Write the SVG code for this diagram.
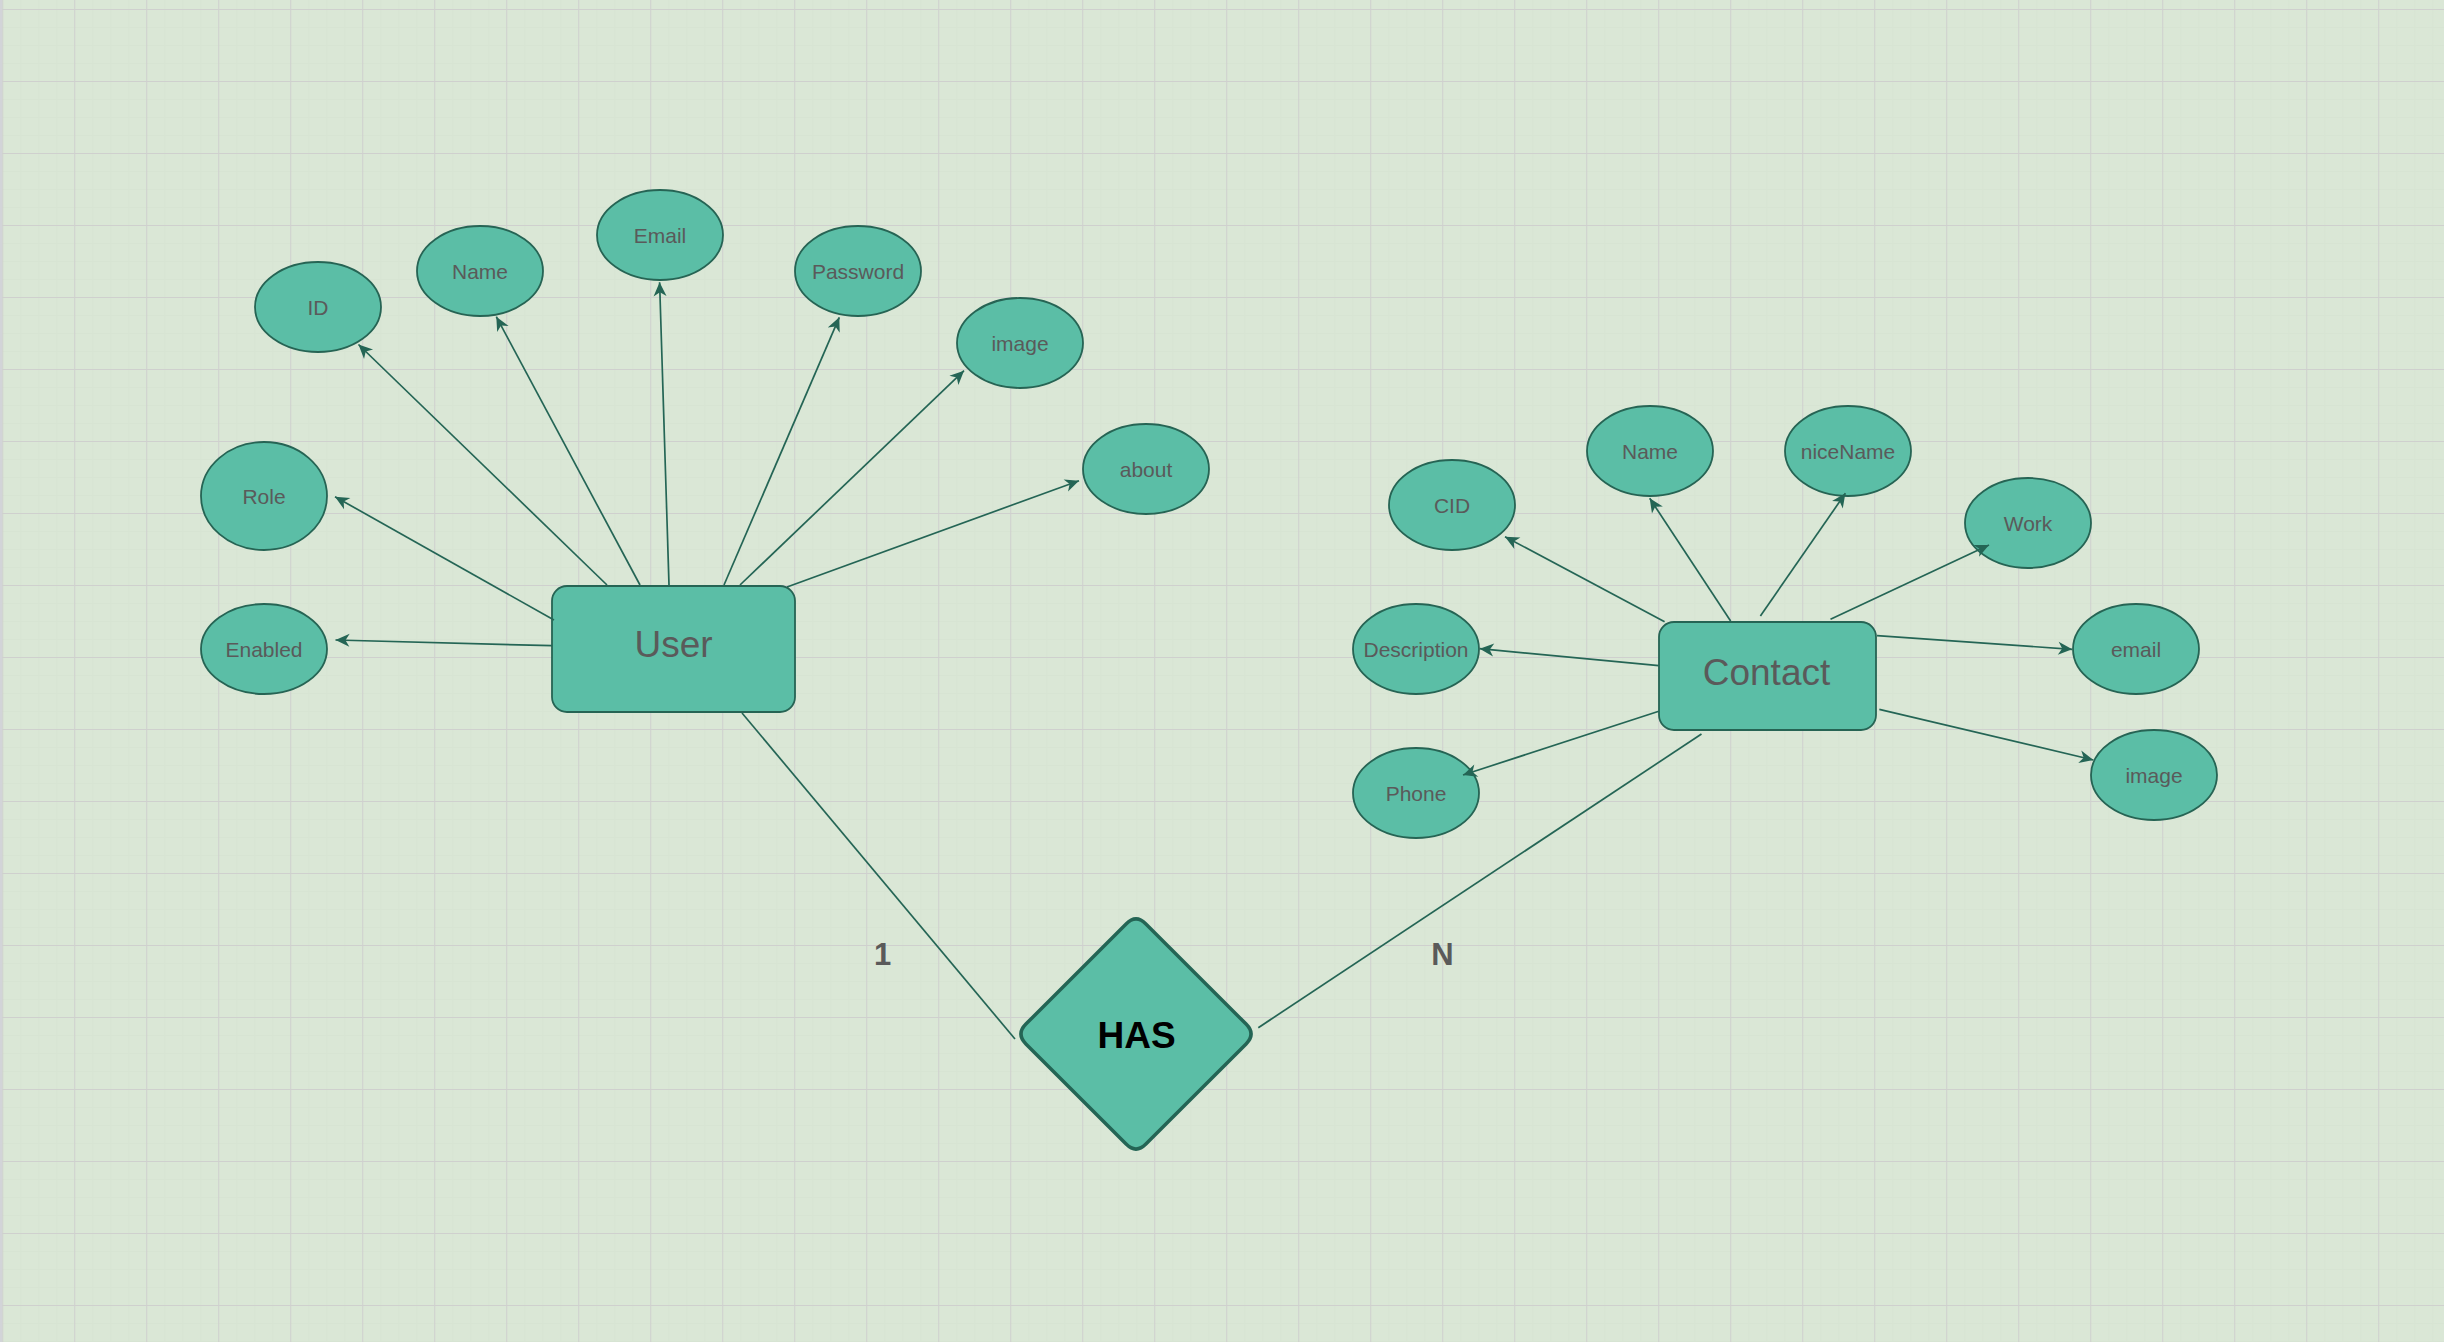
<svg xmlns="http://www.w3.org/2000/svg" width="2444" height="1342" viewBox="0 0 2444 1342">
  <defs>
    <pattern id="grid" patternUnits="userSpaceOnUse" x="2.2" y="9" width="72" height="72">
      <path d="M18.5,0 V72 M36.5,0 V72 M54.5,0 V72 M0,18.5 H72 M0,36.5 H72 M0,54.5 H72" stroke="#d7e4d3" stroke-width="1" fill="none"/>
      <path d="M0.5,0 V72 M0,0.5 H72" stroke="#cfd0ce" stroke-width="1.2" fill="none"/>
    </pattern>
    <marker id="arrow" markerUnits="userSpaceOnUse" markerWidth="18" markerHeight="16" viewBox="-16 -8 18 16" refX="0" refY="0" orient="auto">
      <path d="M0,0 L-14,-6.5 L-10,0 L-14,6.5 Z" fill="#246555"/>
    </marker>
    <style>
      .attr ellipse { fill: #5bbea6; stroke: #266454; stroke-width: 1.8; }
      .attr text { font-family: "Liberation Sans", Arial, sans-serif; font-size: 21px; fill: #5a5a5a; text-anchor: middle; }
      .entity rect { fill: #5bbea6; stroke: #266454; stroke-width: 1.8; }
      .entity text { font-family: "Liberation Sans", Arial, sans-serif; font-size: 37px; fill: #5a5a5a; text-anchor: middle; }
      .edge { stroke: #246555; stroke-width: 1.7; fill: none; }
      .arr { marker-end: url(#arrow); }
      .card { font-family: "Liberation Sans", Arial, sans-serif; font-size: 31px; font-weight: bold; fill: #5a5a5a; text-anchor: middle; }
    </style>
  </defs>

  <rect x="0" y="0" width="2444" height="1342" fill="#dae7d6"/>
  <rect x="0" y="0" width="2444" height="1342" fill="url(#grid)"/>
  <rect x="0" y="0" width="2.2" height="1342" fill="#d2d4d8"/>

  <g id="user" class="entity">
    <rect x="552" y="586" width="243" height="126" rx="15" ry="15"/>
    <text x="673.5" y="656.5">User</text>
  </g>
  <g id="contact" class="entity">
    <rect x="1659" y="622" width="217" height="108" rx="15" ry="15"/>
    <text x="1766.5" y="684.5">Contact</text>
  </g>

  <g id="has">
    <path d="M1145.9,923.9 L1246.1,1024.1 Q1256,1034 1246.1,1043.9 L1145.9,1144.1 Q1136,1154 1126.1,1144.1 L1025.9,1043.9 Q1016,1034 1025.9,1024.1 L1126.1,923.9 Q1136,914 1145.9,923.9 Z" fill="#5bbea6" stroke="#246555" stroke-width="3.5"/>
    <text x="1136.5" y="1048" font-family="Liberation Sans, Arial, sans-serif" font-size="37" font-weight="bold" fill="#000000" text-anchor="middle">HAS</text>
  </g>

  <g id="user-id" class="attr"><ellipse cx="318" cy="307" rx="63" ry="45"/><text x="318" y="314.5">ID</text></g>
  <g id="user-name" class="attr"><ellipse cx="480" cy="271" rx="63" ry="45"/><text x="480" y="278.5">Name</text></g>
  <g id="user-email" class="attr"><ellipse cx="660" cy="235" rx="63" ry="45"/><text x="660" y="242.5">Email</text></g>
  <g id="user-password" class="attr"><ellipse cx="858" cy="271" rx="63" ry="45"/><text x="858" y="278.5">Password</text></g>
  <g id="user-image" class="attr"><ellipse cx="1020" cy="343" rx="63" ry="45"/><text x="1020" y="350.5">image</text></g>
  <g id="user-about" class="attr"><ellipse cx="1146" cy="469" rx="63" ry="45"/><text x="1146" y="476.5">about</text></g>
  <g id="user-role" class="attr"><ellipse cx="264" cy="496" rx="63" ry="54"/><text x="264" y="503.5">Role</text></g>
  <g id="user-enabled" class="attr"><ellipse cx="264" cy="649" rx="63" ry="45"/><text x="264" y="656.5">Enabled</text></g>

  <g id="contact-cid" class="attr"><ellipse cx="1452" cy="505" rx="63" ry="45"/><text x="1452" y="512.5">CID</text></g>
  <g id="contact-name" class="attr"><ellipse cx="1650" cy="451" rx="63" ry="45"/><text x="1650" y="458.5">Name</text></g>
  <g id="contact-nicename" class="attr"><ellipse cx="1848" cy="451" rx="63" ry="45"/><text x="1848" y="458.5">niceName</text></g>
  <g id="contact-work" class="attr"><ellipse cx="2028" cy="523" rx="63" ry="45"/><text x="2028" y="530.5">Work</text></g>
  <g id="contact-description" class="attr"><ellipse cx="1416" cy="649" rx="63" ry="45"/><text x="1416" y="656.5">Description</text></g>
  <g id="contact-email" class="attr"><ellipse cx="2136" cy="649" rx="63" ry="45"/><text x="2136" y="656.5">email</text></g>
  <g id="contact-phone" class="attr"><ellipse cx="1416" cy="793" rx="63" ry="45"/><text x="1416" y="800.5">Phone</text></g>
  <g id="contact-image" class="attr"><ellipse cx="2154" cy="775" rx="63" ry="45"/><text x="2154" y="782.5">image</text></g>

  <g id="connectors">
    <line class="edge arr" x1="607" y1="585" x2="358.5" y2="344.5"/>
    <line class="edge arr" x1="640" y1="585" x2="496.3" y2="316.7"/>
    <line class="edge arr" x1="669" y1="585" x2="659.6" y2="282.3"/>
    <line class="edge arr" x1="724" y1="585" x2="839.3" y2="317.3"/>
    <line class="edge arr" x1="740" y1="585" x2="964" y2="370.7"/>
    <line class="edge arr" x1="787" y1="587" x2="1079" y2="480.7"/>
    <line class="edge arr" x1="554" y1="620" x2="335" y2="496.7"/>
    <line class="edge arr" x1="552" y1="645.7" x2="335.5" y2="640"/>

    <line class="edge arr" x1="1664.6" y1="621.7" x2="1505" y2="536.7"/>
    <line class="edge arr" x1="1730.6" y1="621" x2="1649.7" y2="498.3"/>
    <line class="edge arr" x1="1760.4" y1="616" x2="1845.4" y2="493.3"/>
    <line class="edge arr" x1="1830.5" y1="619.3" x2="1989" y2="545"/>
    <line class="edge arr" x1="1877" y1="635.7" x2="2072.2" y2="649.3"/>
    <line class="edge arr" x1="1879.3" y1="709.3" x2="2093.4" y2="760"/>
    <line class="edge arr" x1="1658.8" y1="665.7" x2="1479.7" y2="648.7"/>
    <line class="edge arr" x1="1658.8" y1="711.3" x2="1463" y2="775"/>

    <line class="edge" x1="742" y1="713" x2="1015" y2="1039"/>
    <line class="edge" x1="1701.5" y1="734" x2="1258.3" y2="1027.7"/>
    <text class="card" x="882.5" y="965">1</text>
    <text class="card" x="1442.5" y="965">N</text>
  </g>
</svg>
